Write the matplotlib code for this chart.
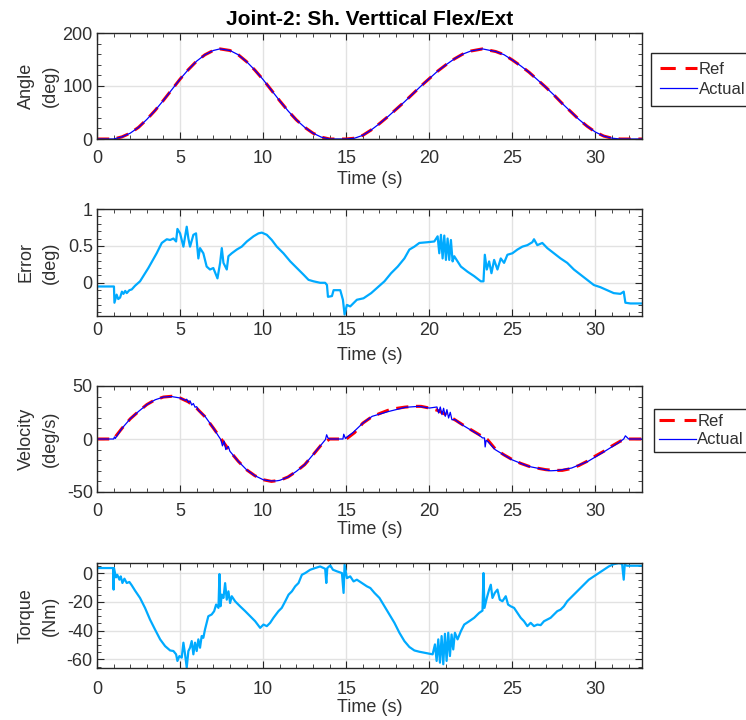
import matplotlib
matplotlib.use('Agg')
import matplotlib.pyplot as plt
from matplotlib.lines import Line2D
from matplotlib.ticker import MultipleLocator, FormatStrFormatter

plt.rcParams['font.family'] = 'Liberation Sans'
plt.rcParams['axes.unicode_minus'] = False

# joint angle (deg)
t_ang = [0, 0.5, 1.0, 1.5, 2.0, 2.5, 3.0, 3.5, 4.0, 4.5, 5.0, 5.5, 6.0, 6.5, 7.0, 7.4,
         8.0, 8.5, 9.0, 9.5, 10.0, 10.5, 11.0, 11.5, 12.0, 12.5, 13.0, 13.5, 14.0, 15.0,
         15.5, 16.0, 16.5, 17.0, 17.5, 18.0, 18.5, 19.0, 19.5, 20.0, 20.5, 21.0, 21.5,
         22.0, 22.5, 23.2, 24.0, 24.5, 25.0, 25.5, 26.0, 26.5, 27.0, 27.5, 28.0, 28.5,
         29.0, 29.5, 30.0, 30.5, 31.0, 31.5, 32.8]
ref_angle = [0, 0, 0, 4, 11, 22, 37, 54, 73, 93, 113, 131, 147, 159, 167, 170,
             167, 159, 146, 130, 112, 92, 72, 53, 36, 22, 11, 3.5, 0, 0,
             1.5, 7, 17, 29, 42, 56, 70, 85, 100, 114, 128, 140, 151,
             160, 166, 170, 165, 159, 149, 138, 126, 112, 98, 83, 67, 52,
             37, 24, 13, 5.5, 1.5, 0, 0]
act_angle = ref_angle

# tracking error (deg)
t_err = [0, 1.02, 1.05, 1.18, 1.28, 1.39, 1.5, 1.59, 1.7, 1.79, 1.95, 2.09, 2.29, 2.59,
         3.09, 3.59, 3.9, 4.2, 4.4, 4.6, 4.76, 4.84, 5.0, 5.2, 5.4, 5.5, 5.6, 5.8, 5.96,
         6.1, 6.2, 6.4, 6.6, 6.8, 7.0, 7.25, 7.41, 7.51, 7.61, 7.81, 7.91, 8.11, 8.41,
         8.71, 9.02, 9.42, 9.72, 9.92, 10.22, 10.52, 10.82, 11.22, 11.63, 12.03, 12.43,
         12.73, 13.03, 13.43, 13.73, 13.84, 13.9, 14.14, 14.24, 14.64, 14.8, 14.9, 15.04,
         15.24, 15.64, 16.04, 16.5, 16.9, 17.3, 17.7, 18.1, 18.5, 18.8, 19.1, 19.4, 19.9,
         20.3, 20.5, 20.6, 20.7, 20.8, 20.9, 21.0, 21.1, 21.2, 21.3, 21.4, 21.5, 21.9,
         22.3, 22.7, 23.1, 23.26, 23.34, 23.46, 23.6, 23.74, 23.9, 24.1, 24.3, 24.5, 24.7,
         25.0, 25.3, 25.6, 25.9, 26.2, 26.3, 26.5, 26.8, 27.1, 27.5, 27.9, 28.3, 28.7,
         29.1, 29.5, 29.9, 30.3, 30.7, 31.1, 31.5, 31.7, 31.8, 32.1, 32.8]
err = [-0.05, -0.05, -0.27, -0.16, -0.22, -0.2, -0.12, -0.15, -0.11, -0.14, -0.1, -0.09, -0.04, 0.02,
       0.2, 0.4, 0.54, 0.59, 0.58, 0.6, 0.56, 0.73, 0.67, 0.49, 0.76, 0.6, 0.49, 0.65, 0.67,
       0.33, 0.47, 0.4, 0.22, 0.18, 0.2, 0.06, 0.27, 0.47, 0.27, 0.18, 0.36, 0.4, 0.45,
       0.49, 0.56, 0.63, 0.67, 0.68, 0.65, 0.58, 0.49, 0.4, 0.29, 0.2, 0.11,
       0.04, 0.02, 0.0, 0.0, -0.03, -0.19, -0.18, -0.1, -0.1, -0.23, -0.43, -0.3,
       -0.32, -0.23, -0.21, -0.14, -0.06, 0.02, 0.13, 0.22, 0.33, 0.45, 0.49, 0.54, 0.55,
       0.56, 0.63, 0.40, 0.65, 0.33, 0.64, 0.31, 0.60, 0.31, 0.58, 0.29, 0.36, 0.22,
       0.15, 0.09, 0.02, 0.02, 0.38, 0.18, 0.29, 0.13, 0.31, 0.18, 0.33, 0.27, 0.38,
       0.40, 0.45, 0.49, 0.51, 0.55, 0.59, 0.51, 0.54, 0.47, 0.40, 0.33, 0.27, 0.18,
       0.11, 0.04, -0.03, -0.06, -0.10, -0.14, -0.15, -0.12, -0.27, -0.28, -0.28]

# joint velocity (deg/s)
t_vel = [0, 1.0, 1.5, 2.0, 2.5, 3.0, 3.5, 4.0, 4.5, 5.0, 5.5, 6.0, 6.5, 7.0, 7.5, 8.0,
         8.5, 9.0, 9.5, 10.0, 10.5, 11.0, 11.5, 12.0, 12.5, 13.0, 13.5, 14.0, 15.0, 15.5,
         16.0, 16.5, 17.0, 17.5, 18.0, 18.5, 19.0, 19.5, 20.0, 20.5, 21.0, 21.5, 22.0,
         22.5, 23.0, 23.5, 24.0, 24.5, 25.0, 25.5, 26.0, 26.5, 27.0, 27.5, 28.0, 28.5,
         29.0, 29.5, 30.0, 30.5, 31.0, 31.5, 32.0, 32.8]
ref_vel = [0, 0, 10, 19, 26, 32.5, 37, 39.6, 40.3, 38.7, 35, 29, 21, 10.4, -0.6, -11.6,
           -21, -29, -34.6, -38.4, -40, -39, -35.8, -30.5, -24.2, -15, -5.5, 0, 0, 6,
           15, 20.5, 24, 27, 28.8, 30, 30.8, 30.8, 29.2, 27, 23, 18.5, 13.5,
           8.8, 4.1, -0.6, -10, -15, -19.5, -23, -25.8, -27.5, -28.9, -29.6, -29.6, -28,
           -25, -21, -16, -11.6, -6.5, -2, 0, 0]
t_vel_act = [0, 1.0, 1.05, 1.1, 1.2, 1.5, 2.0, 2.5, 3.0, 3.5, 4.0, 4.5, 5.0, 5.3, 5.4, 5.5,
             5.6, 5.7, 5.8, 5.9, 6.0, 6.1, 6.5, 7.0, 7.3, 7.45, 7.55, 7.65, 7.75, 7.9, 8.0,
             8.5, 9.0, 9.5, 10.0, 10.4, 10.8, 11.0, 11.5, 12.0, 12.5, 13.0, 13.5, 13.75,
             13.82, 13.9, 14.0, 14.8, 14.85, 14.95, 15.05, 15.4, 16.0, 16.56, 17.56, 18.56,
             19.36, 20.0, 20.46, 20.56, 20.66, 20.76, 20.86, 20.96, 21.06, 21.16, 21.26,
             21.36, 21.56, 21.76, 21.96, 22.96, 23.2, 23.32, 23.36, 23.42, 23.5, 23.96,
             24.96, 25.96, 26.5, 26.96, 27.3, 27.76, 28.56, 29.56, 30.56, 31.36, 31.7,
             31.8, 31.9, 32.0, 32.8]
act_vel = [0, 0, 2, 0.5, 3, 10, 19, 26, 32.4, 37, 39.6, 40, 38.7, 36.5, 37.5, 34.5,
           36, 32, 33.5, 30, 30.5, 27, 21.4, 10.4, 3, -0.5, -6.5, -2, -10, -7, -11.6,
           -21, -29, -34.6, -38.4, -39.5, -39.5, -39, -35.8, -30.5, -24.2, -14.8, -5.3, -0.5,
           4, 1, 0, 0, 4.5, 0.5, 2, 6, 15, 21.4, 26, 29.9,
           30.8, 29.2, 30.2, 24.5, 30.2, 23, 29, 21.4, 27.7, 19.8, 25.2,
           18.2, 18.2, 15.7, 13.5, 4.1, 1, 1, -7.5, -1.3, -2, -10,
           -19.5, -25.8, -27.5, -28.9, -30, -29.6, -27.4, -21, -11.6, -3.8, 0,
           3, 1.5, 0, 0]

# joint torque (Nm)
t_tq = [0, 0.98, 1.0, 1.02, 1.14, 1.22, 1.35, 1.43, 1.53, 1.65, 1.79, 1.95, 2.09, 2.29,
        2.59, 2.89, 3.19, 3.49, 3.8, 4.1, 4.4, 4.6, 4.76, 4.84, 4.96, 5.1, 5.2, 5.3, 5.4,
        5.5, 5.6, 5.7, 5.8, 5.9, 6.0, 6.1, 6.2, 6.3, 6.4, 6.5, 6.7, 6.9, 7.05, 7.17, 7.31,
        7.37, 7.43, 7.51, 7.61, 7.71, 7.81, 7.91, 8.01, 8.11, 8.31, 8.61, 8.92, 9.22,
        9.52, 9.82, 10.02, 10.22, 10.42, 10.62, 10.92, 11.12, 11.33, 11.53, 11.73, 11.93,
        12.13, 12.33, 12.53, 12.83, 13.13, 13.43, 13.73, 13.8, 13.86, 14.04, 14.2, 14.44,
        14.74, 14.84, 14.9, 15.04, 15.24, 15.44, 15.64, 15.94, 16.24, 16.45, 16.7, 17.0,
        17.3, 17.6, 17.9, 18.2, 18.5, 18.8, 19.1, 19.4, 19.7, 20.0, 20.2, 20.34, 20.44,
        20.54, 20.64, 20.74, 20.84, 20.94, 21.04, 21.14, 21.24, 21.34, 21.44, 21.54,
        21.7, 21.9, 22.1, 22.4, 22.7, 23.0, 23.2, 23.26, 23.32, 23.46, 23.6, 23.7, 23.8,
        23.94, 24.1, 24.24, 24.4, 24.6, 24.74, 24.9, 25.1, 25.3, 25.5, 25.7, 25.9, 26.1,
        26.3, 26.5, 26.7, 26.9, 27.1, 27.3, 27.5, 27.7, 27.9, 28.1, 28.3, 28.5, 28.7,
        29.0, 29.3, 29.6, 29.9, 30.2, 30.5, 30.8, 31.1, 31.4, 31.6, 31.7, 31.76, 31.9, 32.8]
torque = [3.5, 3.5, -11.5, 3.5, -3.0, -1.2, -4.6, -2.3, -6.9, -3.9, -6.9, -6.2, -8.5, -12.2,
          -17.3, -24.2, -32.3, -39.2, -46.1, -50.8, -53.8, -54.2, -56.5, -61.1, -57.7, -58.8, -48.4, -56.5, -65.7,
          -54.2, -51.9, -47.3, -56.5, -48.4, -54.2, -46.1, -51.9, -43.8, -45.0, -39.2, -30.0, -28.8, -26.5, -21.9, -24.2,
          -0.7, -23.1, -15.0, -17.3, -7.0, -18.5, -12.7, -20.8, -16.1, -19.6, -23.1, -26.5, -30.0,
          -33.5, -38.1, -35.8, -36.9, -34.6, -31.1, -26.5, -24.2, -19.6, -15.0, -12.7, -9.2,
          -6.9, -1.2, 0, 2.3, 3.5, 4.6, 3.0, -6.9, 3.5, 5.3, 2.3, 1.2,
          0, -13.8, 5.8, -3.5, -2.3, -5.8, -4.6, -6.9, -9.2, -10.4, -13.8, -17.3,
          -23.1, -28.8, -34.6, -41.5, -47.3, -51.4, -53.8, -54.7, -55.4, -56.1, -56.5, -49.6, -61.1,
          -46.1, -62.3, -43.8, -63.4, -42.2, -61.1, -41.5, -57.7, -42.7, -53.1, -41.5,
          -46.1, -40.4, -35.8, -33.5, -31.1, -27.7, -26.1, 0, -24.2, -17.3, -11.5, -8.1, -17.3,
          -13.8, -11.5, -18.5, -19.6, -16.1, -21.9, -23.1, -24.2, -27.7, -31.1, -33.5, -36.9, -34.6,
          -36.9, -35.8, -36.2, -33.5, -32.3, -31.1, -28.8, -26.5, -25.4, -23.1, -19.6, -17.3, -15.0,
          -11.5, -8.1, -4.6, -2.3, 0, 2.3, 4.6, 6.2, 6.9, 6.5, -4.6, 5.8, 5.1, 5.1]

ink = '#262626'
txt = '#303030'
cyan = '#00aaff'
fs = 13

fig = plt.figure(figsize=(7.46, 7.2), dpi=100)
L, W = 97 / 746, 545 / 746
ax1 = fig.add_axes([L, 1 - 139 / 720, W, 106 / 720])
ax2 = fig.add_axes([L, 1 - 316 / 720, W, 107 / 720])
ax3 = fig.add_axes([L, 1 - 492 / 720, W, 106 / 720])
ax4 = fig.add_axes([L, 1 - 668 / 720, W, 105 / 720])

ax1.plot(t_ang, ref_angle, color='r', lw=2.2, dashes=(4, 2.5))
ax1.plot(t_ang, act_angle, color='#0000ff', lw=0.9)
ax1.set_ylim(0, 200)
ax1.set_yticks([0, 100, 200])
ax1.yaxis.set_minor_locator(MultipleLocator(20))
ax1.set_ylabel('Angle\n(deg)')
ax1.set_title('Joint-2: Sh. Verttical Flex/Ext', fontsize=15, fontweight='bold', pad=6)

ax2.plot(t_err, err, color=cyan, lw=1.6)
ax2.set_ylim(-0.45, 1)
ax2.set_yticks([0, 0.5, 1])
ax2.yaxis.set_minor_locator(MultipleLocator(0.1))
ax2.yaxis.set_major_formatter(FormatStrFormatter('%g'))
ax2.set_ylabel('Error\n(deg)')

ax3.plot(t_vel, ref_vel, color='r', lw=2.2, dashes=(4, 2.5))
ax3.plot(t_vel_act, act_vel, color='#0000ff', lw=0.9)
ax3.set_ylim(-50, 50)
ax3.set_yticks([-50, 0, 50])
ax3.yaxis.set_minor_locator(MultipleLocator(10))
ax3.set_ylabel('Velocity\n(deg/s)')

ax4.plot(t_tq, torque, color=cyan, lw=1.6)
ax4.set_ylim(-66, 7)
ax4.set_yticks([-60, -40, -20, 0])
ax4.yaxis.set_minor_locator(MultipleLocator(5))
ax4.set_ylabel('Torque\n(Nm)')

# tick label pad (pt) and x label centre below each axes (px)
pads = [(8, 41), (4, 40), (8, 38), (9, 40)]
for ax, (tp, xl) in zip([ax1, ax2, ax3, ax4], pads):
    h = ax.get_position().height * 720
    ax.set_xlim(0, 32.8)
    ax.set_xticks(range(0, 31, 5))
    ax.xaxis.set_minor_locator(MultipleLocator(1))
    ax.tick_params(which='both', direction='in', top=True, right=True,
                   labelsize=fs, colors=ink, labelcolor=txt)
    ax.tick_params(which='major', length=5)
    ax.tick_params(which='minor', length=3)
    ax.tick_params(axis='x', pad=tp)
    ax.tick_params(axis='y', pad=3)
    ax.grid(True, which='major', color='#e2e2e2', lw=1)
    ax.set_axisbelow(True)
    for s in ax.spines.values():
        s.set_color(ink)
        s.set_linewidth(1)
    ax.set_xlabel('Time (s)', fontsize=fs, color=txt, va='center')
    ax.xaxis.set_label_coords(0.5, -xl / h)
    ax.yaxis.label.set_fontsize(fs)
    ax.yaxis.label.set_color(txt)
    ax.yaxis.label.set_va('center')
    ax.yaxis.label.set_linespacing(1.55)
    ax.yaxis.set_label_coords(-0.108, 0.5)

# legend keys: two long red dashes, thin blue line
keys = [Line2D([], [], color='r', lw=2.2, dashes=(5, 3.2)),
        Line2D([], [], color='#0000ff', lw=0.9)]
for ax, (x, y), bp, ls in [(ax1, ((651 - 97) / 545, (139 - 53) / 106), 0.55, 0.3),
                           (ax3, ((654 - 97) / 545, (492 - 409) / 106), 0.3, 0.2)]:
    leg = ax.legend(keys, ['Ref', 'Actual'], loc='upper left', bbox_to_anchor=(x, y),
                    borderaxespad=0, fontsize=12, handlelength=2.2, handletextpad=0.1,
                    labelspacing=ls, borderpad=bp, fancybox=False,
                    framealpha=1, edgecolor=ink)
    leg.get_frame().set_linewidth(1)
    for t in leg.get_texts():
        t.set_color(txt)

fig.savefig('out.png', dpi=100)
